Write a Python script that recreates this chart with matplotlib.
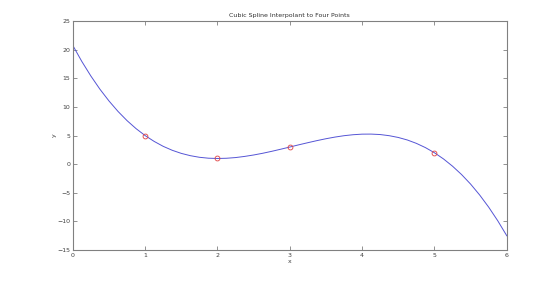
import matplotlib
matplotlib.use('Agg')
import matplotlib.pyplot as plt

# data points
xPts = [1, 2, 3, 5]
yPts = [5, 1, 3, 2]

# curve
xCurve = [0, 0.125, 0.25, 0.375, 0.5, 0.625, 0.75, 0.875, 1, 1.125, 1.25, 1.375,
          1.5, 1.625, 1.75, 1.875, 2, 2.125, 2.25, 2.375, 2.5, 2.625, 2.75, 2.875,
          3, 3.125, 3.25, 3.375, 3.5, 3.625, 3.75, 3.875, 4, 4.125, 4.25, 4.375,
          4.5, 4.625, 4.75, 4.875, 5, 5.125, 5.25, 5.375, 5.5, 5.625, 5.75, 5.875, 6]
yCurve = [20.75, 17.94, 15.40, 13.10, 11.05, 9.22, 7.61, 6.21, 5.0, 3.98, 3.12, 2.43,
          1.89, 1.49, 1.21, 1.05, 1.0, 1.04, 1.16, 1.36, 1.61, 1.91, 2.25, 2.62,
          3.0, 3.39, 3.76, 4.12, 4.45, 4.74, 4.98, 5.15, 5.25, 5.26, 5.18, 4.98,
          4.67, 4.23, 3.64, 2.90, 2.0, 0.92, -0.35, -1.81, -3.48, -5.38, -7.51, -9.88, -12.5]

xTicks = [0, 1, 2, 3, 4, 5, 6]
yTicks = [-15, -10, -5, 0, 5, 10, 15, 20, 25]

fig = plt.figure(figsize=(5.6, 2.81), dpi=100)
ax = fig.add_axes([0.130, 0.110, 0.775, 0.815])

ax.plot(xCurve, yCurve, color='#5555d5', linewidth=0.7)
ax.plot(xPts, yPts, 'o', markerfacecolor='none', markeredgecolor='#e04040',
        markersize=3.5, markeredgewidth=0.6)

ax.set_xlim(0, 6)
ax.set_ylim(-15, 25)
ax.set_xticks(xTicks)
ax.set_yticks(yTicks)
for s in ax.spines.values():
    s.set_color('#808080')
    s.set_linewidth(0.8)
ax.tick_params(direction='in', length=3, width=0.6, color='#808080',
               labelsize=4.5, labelcolor='#404040', top=True, right=True, pad=2)
ax.set_title('Cubic Spline Interpolant to Four Points', fontsize=4.5, color='#303030', pad=3)
ax.set_xlabel('x', fontsize=4.5, color='#404040', labelpad=1)
ax.set_ylabel('y', fontsize=4.5, color='#404040', labelpad=0)

fig.savefig('out.png', dpi=100)
